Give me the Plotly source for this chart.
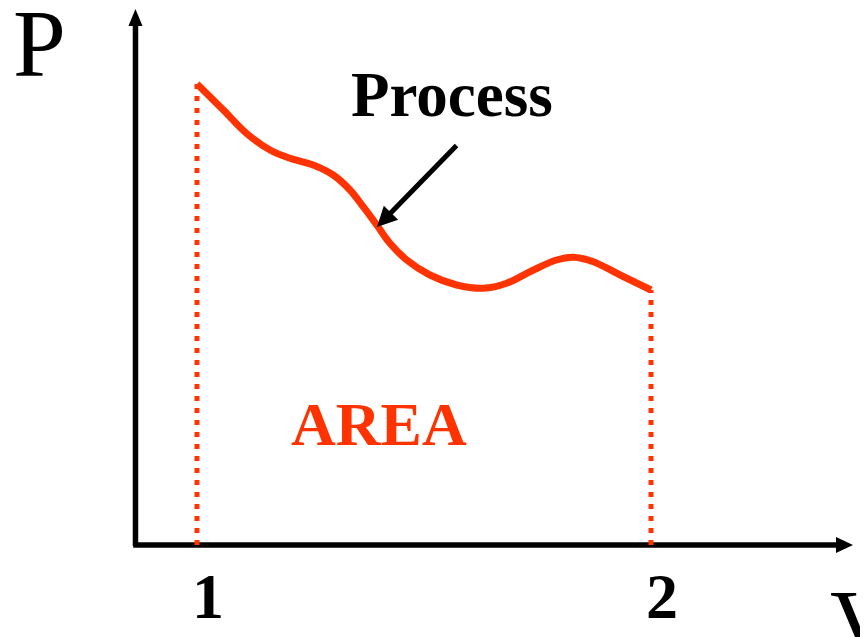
import plotly.graph_objects as go

# ---- data (V in units of the 1..2 ticks, P arbitrary units) ----
V_curve = [1.0, 1.058, 1.109, 1.161, 1.205, 1.256, 1.300, 1.337, 1.366, 1.396, 1.425,
           1.462, 1.513, 1.572, 1.631, 1.682, 1.741, 1.792, 1.829, 1.873, 1.932, 2.0]
P_curve = [4.61, 4.35, 4.117, 3.95, 3.867, 3.80, 3.70, 3.55, 3.383, 3.20, 3.017,
           2.85, 2.70, 2.60, 2.567, 2.617, 2.75, 2.85, 2.877, 2.833, 2.70, 2.55]
tick_values = [1, 2]
tick_labels = ["1", "2"]
process_point = (1.3965, 3.18)

RED = "#FF3300"
SERIF = "Liberation Serif, Times New Roman, serif"
OFF = 8                      # default page body margin
W, H = 868 - OFF, 637 - OFF

fig = go.Figure()

# dotted boundary lines at V1 and V2
fig.add_trace(go.Scatter(x=[V_curve[0], V_curve[0]], y=[0, P_curve[0]], mode="lines",
                         line=dict(color=RED, width=5, dash="5px,7px"), hoverinfo="skip"))
fig.add_trace(go.Scatter(x=[V_curve[-1], V_curve[-1]], y=[0, P_curve[-1]], mode="lines",
                         line=dict(color=RED, width=5, dash="5px,7px"), hoverinfo="skip"))
# process curve
fig.add_trace(go.Scatter(x=V_curve, y=P_curve, mode="lines",
                         line=dict(color=RED, width=7, shape="spline", smoothing=1.0),
                         hoverinfo="skip"))

# axes with arrowheads
xa0 = 0.8645
x_tip, x_base, x_half = 2.4449, 2.4075, 0.08
y_tip, y_base, y_half = 5.36, 5.19, 0.0155
shapes = [
    dict(type="line", x0=xa0, y0=-0.01, x1=xa0, y1=y_base + 0.02, line=dict(color="black", width=5.5), layer="below"),
    dict(type="line", x0=xa0 - 0.005, y0=0, x1=x_base + 0.005, y1=0, line=dict(color="black", width=5.5), layer="below"),
    dict(type="path", path=f"M {xa0 - y_half} {y_base} L {xa0 + y_half} {y_base} L {xa0} {y_tip} Z",
         fillcolor="black", line=dict(color="black", width=0), layer="below"),
    dict(type="path", path=f"M {x_base} {-x_half} L {x_base} {x_half} L {x_tip} 0 Z",
         fillcolor="black", line=dict(color="black", width=0), layer="below"),
]

def px(x):
    return (x - OFF) / W

def py(y):
    return 1 - (y - OFF) / H

annotations = [
    dict(text="P", x=px(39), y=py(44), xref="paper", yref="paper", showarrow=False,
         font=dict(family=SERIF, size=95, color="black"), xanchor="center", yanchor="middle"),
    dict(text="V", x=px(864), y=py(624), xref="paper", yref="paper", showarrow=False,
         font=dict(family=SERIF, size=95, color="black"), xanchor="center", yanchor="middle"),
    dict(text="<b>Process</b>", x=px(452), y=py(95), xref="paper", yref="paper", showarrow=False,
         font=dict(family=SERIF, size=63, color="black"), xanchor="center", yanchor="middle"),
    dict(text="<b>AREA</b>", x=px(379), y=py(424), xref="paper", yref="paper", showarrow=False,
         font=dict(family=SERIF, size=62, color=RED), xanchor="center", yanchor="middle"),
    dict(text="", x=process_point[0], y=process_point[1], ax=1.5749, ay=4.01,
         xref="x", yref="y", axref="x", ayref="y", showarrow=True,
         arrowhead=2, arrowsize=0.8, arrowwidth=5, arrowcolor="black", standoff=0),
]
for v, lab in zip(tick_values, tick_labels):
    annotations.append(dict(text=f"<b>{lab}</b>", x=v, y=py(596), xref="x", yref="paper",
                            xshift=11, showarrow=False,
                            font=dict(family=SERIF, size=64, color="black"),
                            xanchor="center", yanchor="middle"))

fig.update_layout(
    width=W, height=H, margin=dict(l=0, r=0, t=0, b=0),
    paper_bgcolor="white", plot_bgcolor="white", showlegend=False,
    xaxis=dict(range=[1 - (197 - OFF) / 454, 1 + 671 / 454], visible=False, fixedrange=True),
    yaxis=dict(range=[-0.92, (545 - OFF) / 100], visible=False, fixedrange=True),
    shapes=shapes, annotations=annotations,
)

fig.write_html("out.html", config={"displayModeBar": False})
